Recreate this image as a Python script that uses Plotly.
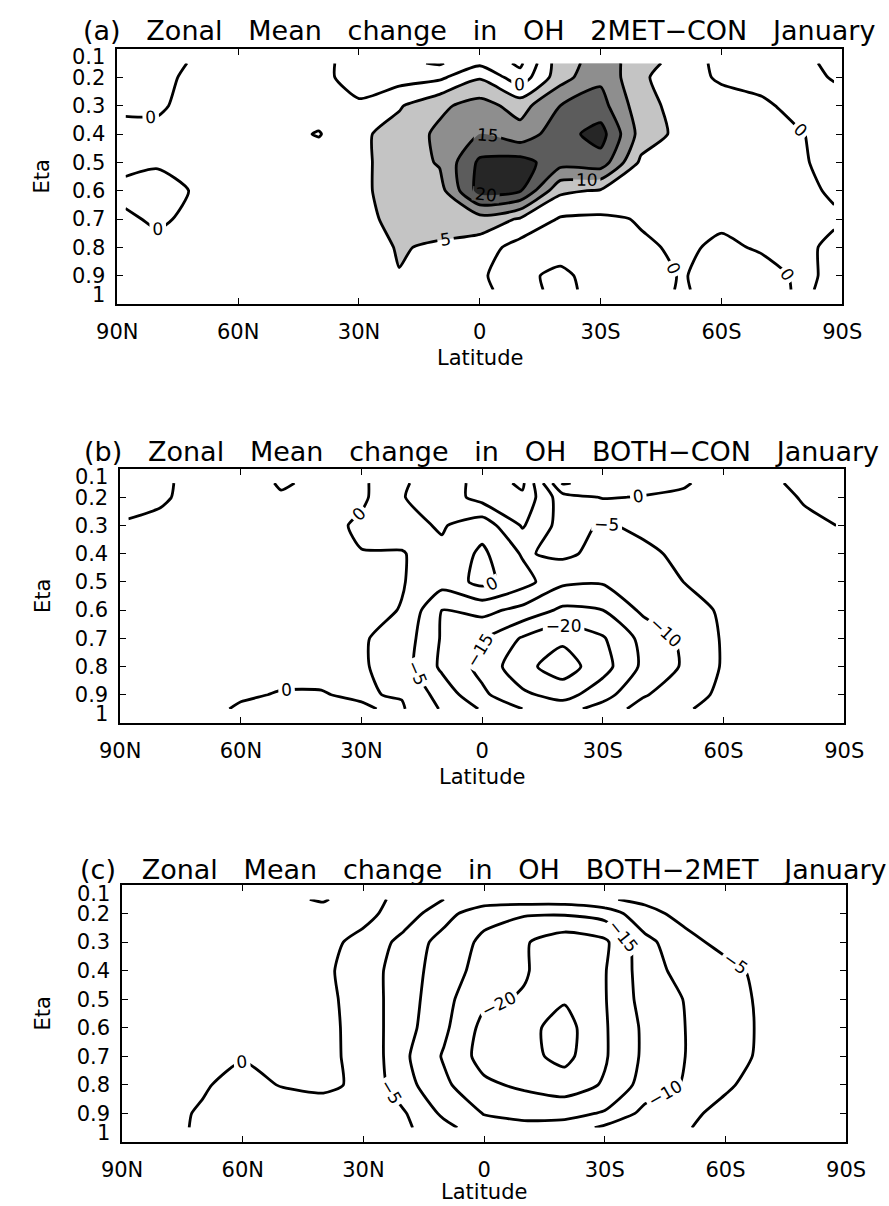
import plotly.graph_objects as go

# ---------------- data ----------------
lat = [88, 80, 70, 60, 50, 40, 30, 20, 10, 0, -10, -20, -30, -40, -50, -60, -70, -80, -88]
eta = [0.15, 0.2, 0.3, 0.4, 0.5, 0.6, 0.7, 0.8, 0.9, 0.95]

# (a) 2MET-CON, rows = eta levels, columns = latitudes
oh_2met_con = [
    [-1, -0.8, 0.3, 1, 1.5, 1, -1.5, -4, -5.5, -1, -6, 8, 12, 8, 2, -1, -1.5, -0.5, 0.5],
    [-1, -0.5, 0.5, 1, 1.5, 1, -1.5, -2, -1, 4.5, -3, 8, 14, 6, 1.5, -0.5, -1, -0.8, 0.2],
    [-0.3, -0.3, 0.8, 1, 1.5, 2.5, 0.5, 4.5, 9, 12, 8, 15, 17, 7, 3, 1.5, 0.5, -1, -1],
    [0.5, 0.5, 1, 1, 1.5, -0.3, 4, 7, 11, 15, 12, 18, 22, 8, 3.5, 2, 1.5, 0.1, -1],
    [0.5, 0.3, 0.5, 1, 1.5, 2.5, 4, 7, 10.5, 21, 22, 17, 18, 4, 2, 2, 1.5, 0.3, -1],
    [-0.5, -1, 0.3, 1, 1.5, 2, 4, 7, 8, 22, 20.5, 6, 4.5, 3, 2, 2, 1.5, 0.5, -0.3],
    [0.3, -0.3, 0.5, 1, 1, 1.5, 3, 7, 8, 8, 4.5, -0.5, -0.8, 0.3, 1.5, 0.5, 1, 0.5, 0.3],
    [0.5, 0.5, 0.8, 1, 1, 1, 2, 5.5, 4, 2.5, -2, -3, -2, -0.5, 0.5, -0.5, 0.3, 0.5, -0.5],
    [0.5, 0.5, 1, 1, 1, 1.5, 2, 4.8, 3, 1, -4, -6, -3, -1.5, 0.2, -1, -1, 0.5, -0.5],
    [0.5, 0.5, 1, 1, 1, 1.5, 2, 3, 2, 1.5, -3, -6.5, -3, -1.5, 0.3, -1, -0.8, 0.3, -0.5],
]

# (b) BOTH-CON
oh_both_con = [
    [-1, -0.5, 1, 2.5, 5.5, 4, 1, -4.5, -7, -12, -16, 5.5, 3, 1.5, 0.5, -2, -4, -6, -7],
    [-1, -0.3, 0.8, 2, 4.5, 3, 1, -4.8, -7, -12, -14, -2, 0.3, -0.2, -0.8, -2.5, -4, -5.2, -6.5],
    [0.3, 0.5, 1, 1.5, 2, 2, -1, -3.5, -5.5, -2, -10.5, -3, -5.5, -4, -2, -2.5, -4, -4.5, -5],
    [0.5, 1, 1, 1.5, 2, 2, 0.2, 0.5, -4, 1, -5.5, -4, -6.5, -6, -4, -3, -3, -3, -3],
    [0.5, 1, 1, 1.5, 2, 2, 1.5, 0.3, -3, 1.5, -3, -9, -9.5, -7.5, -5, -3.5, -3, -2.5, -2],
    [0.5, 1, 1, 1.5, 1.5, 1.5, 1.5, -0.2, -10, -8.5, -11.5, -16, -15, -9, -6.5, -4.5, -3, -2, -1.5],
    [0.5, 1, 1, 1, 1, 1, 0.5, -2, -10.5, -14.5, -20.5, -24, -20.5, -13.5, -9, -4.5, -3, -2, -1.5],
    [0.5, 0.8, 0.8, 0.5, 0.5, 0.5, 0.6, -2.5, -11, -16.5, -23.5, -27.5, -22, -14, -9.5, -4.5, -3, -2, -1],
    [0.3, 0.5, 0.5, 0.2, -0.1, -0.1, 0.3, -0.3, -7, -14, -19, -22, -17, -10.5, -7, -4, -2, -1.5, -0.5],
    [0.3, 0.5, 0.5, -0.2, -0.8, -0.8, -0.3, 0.5, -5.5, -10.5, -15, -17, -13, -8, -5.5, -3.5, -2, -1, -0.5],
]

# (c) BOTH-2MET
oh_both_2met = [
    [1, 1, 2, 3, 4, 5.5, 2, -1.5, -5, -7, -7.5, -7.5, -5.5, -4, -3, -2, -1.5, -1, -1],
    [1, 1, 2, 2, 2.5, 3, 1.5, -2.5, -8, -13.5, -14.5, -14.5, -13, -6.5, -3.5, -2.5, -2, -1.5, -1],
    [1, 1.5, 1.5, 1.5, 1.5, 1.5, -1.5, -6.5, -12, -16, -19.5, -23, -21, -11.5, -6.5, -3.5, -2, -1.5, -1],
    [0.5, 1, 1, 1, 1, 1, -2.5, -7.5, -12.5, -17, -19.5, -23.5, -20.3, -12.5, -8, -6.5, -3.5, -2, -1.5],
    [0.5, 1, 1, 1, 1, 1.5, -2.5, -7.5, -13.5, -19, -20.5, -24.5, -20.3, -13, -9.8, -7, -4, -2, -1.5],
    [0.5, 1, 1, 1, 1, 1.5, -2, -8, -14, -21.5, -23.5, -27, -20.5, -14, -10, -7.5, -4, -2, -1.5],
    [0.5, 0.8, 0.5, 0.2, 0.6, 0.8, -1, -9, -15.5, -22, -23.5, -26.5, -20.5, -14, -10, -7, -4, -2, -1.5],
    [0.5, 0.5, 0.3, -1, 0.2, 1, -1, -8, -14, -19, -21, -22.5, -19.5, -13, -9.5, -5.5, -3.5, -2, -1.5],
    [1, 0.8, -0.3, -1.5, -2, -2.5, -3, -4.5, -11, -15.2, -16, -16.5, -14.5, -8.5, -5.8, -4, -3, -2, -1.5],
    [1, 0.8, -0.4, -1.5, -2, -3, -3.5, -4, -8.5, -13, -14, -13, -9, -6.5, -5.2, -4, -3, -2, -1.5],
]

lat_ticks = [90, 60, 30, 0, -30, -60, -90]
lat_labels = ["90N", "60N", "30N", "0", "30S", "60S", "90S"]
eta_ticks = [0.2, 0.3, 0.4, 0.5, 0.6, 0.7, 0.8, 0.9]
eta_labels = ["0.2", "0.3", "0.4", "0.5", "0.6", "0.7", "0.8", "0.9"]
titles = [
    ["(a)", "Zonal", "Mean", "change", "in", "OH", "2MET\u2212CON", "January"],
    ["(b)", "Zonal", "Mean", "change", "in", "OH", "BOTH\u2212CON", "January"],
    ["(c)", "Zonal", "Mean", "change", "in", "OH", "BOTH\u22122MET", "January"],
]
shade_levels = [5, 10, 15, 20]
shade_colors = ["#c4c4c4", "#8e8e8e", "#5c5c5c", "#262626"]

# ---------------- layout geometry (pixels) ----------------
W, H = 889, 1206
FONT = "DejaVu Sans"
boxes = [  # left, right, top, bottom
    (101, 861, 49, 304),
    (104, 863, 469, 723),
    (106, 865, 885, 1142),
]
title_y = [30.5, 451, 869]
xlabel_dy = [54, 54, 50]
fields = [oh_2met_con, oh_both_con, oh_both_2met]

fig = go.Figure()
layout = dict(
    width=W, height=H, margin=dict(l=0, r=0, t=0, b=0),
    paper_bgcolor="white", plot_bgcolor="white", showlegend=False,
    font=dict(family=FONT, color="black"),
)
annotations = []

for i, (z, box) in enumerate(zip(fields, boxes)):
    L, R, T, B = box
    xa = "x" if i == 0 else f"x{i+1}"
    ya = "y" if i == 0 else f"y{i+1}"
    xkey = "xaxis" if i == 0 else f"xaxis{i+1}"
    ykey = "yaxis" if i == 0 else f"yaxis{i+1}"

    if i == 0:
        # shading of the positive bands (plotly shades the region outside the
        # constraint, so "<" shades where the value exceeds the level)
        for lev, col in zip(shade_levels, shade_colors):
            fig.add_trace(go.Contour(
                x=lat, y=eta, z=z, xaxis=xa, yaxis=ya,
                contours=dict(type="constraint", operation="<", value=lev),
                fillcolor=col, line=dict(width=0, smoothing=0.6),
                showscale=False, hoverinfo="skip",
            ))

    fig.add_trace(go.Contour(
        x=lat, y=eta, z=z, xaxis=xa, yaxis=ya,
        contours=dict(coloring="lines", start=-25, end=25, size=5,
                      showlabels=True,
                      labelfont=dict(family=FONT, size=17, color="black")),
        colorscale=[[0, "black"], [1, "black"]],
        line=dict(width=2.8, smoothing=0.6),
        showscale=False, hoverinfo="skip",
    ))

    layout[xkey] = dict(
        domain=[L / W, R / W], anchor=ya, range=[90, -90],
        tickvals=lat_ticks, ticktext=lat_labels,
        ticks="inside", ticklen=6, tickwidth=1.3, tickcolor="black",
        showline=True, linecolor="black", linewidth=1.6, mirror="ticks",
        showgrid=False, zeroline=False,
        tickfont=dict(family=FONT, size=21, color="black"),
        ticklabelstandoff=8,
    )
    layout[ykey] = dict(
        domain=[1 - B / H, 1 - T / H], anchor=xa, range=[1.0, 0.1],
        tickvals=eta_ticks, ticktext=eta_labels,
        ticks="inside", ticklen=6, tickwidth=1.3, tickcolor="black",
        showline=True, linecolor="black", linewidth=1.6, mirror="ticks",
        showgrid=False, zeroline=False,
        tickfont=dict(family=FONT, size=21, color="black"),
        ticklabelstandoff=6,
    )
    # shifted end labels of the eta axis
    for txt, yv in (("0.1", 0.130), ("1", 0.968)):
        annotations.append(dict(
            text=txt, xref="paper", yref=ya, x=(L - 11) / W, y=yv,
            xanchor="right", yanchor="middle", showarrow=False,
            font=dict(family=FONT, size=21, color="black"),
        ))
    # title
    annotations.append(dict(
        text="\u00a0\u00a0\u00a0".join(titles[i]),
        xref="paper", yref="paper", x=((L + R) / 2 - 1) / W, y=1 - title_y[i] / H,
        xanchor="center", yanchor="middle", showarrow=False,
        font=dict(family=FONT, size=27, color="black"),
    ))
    # axis titles
    annotations.append(dict(
        text="Latitude", xref="paper", yref="paper",
        x=(L + R) / 2 / W, y=1 - (B + xlabel_dy[i]) / H,
        xanchor="center", yanchor="middle", showarrow=False,
        font=dict(family=FONT, size=21, color="black"),
    ))
    annotations.append(dict(
        text="Eta", xref="paper", yref="paper",
        x=23 / W, y=1 - (T + B) / 2 / H, textangle=-90,
        xanchor="center", yanchor="middle", showarrow=False,
        font=dict(family=FONT, size=21, color="black"),
    ))

layout["annotations"] = annotations
fig.update_layout(**layout)
fig.write_html("out.html")
